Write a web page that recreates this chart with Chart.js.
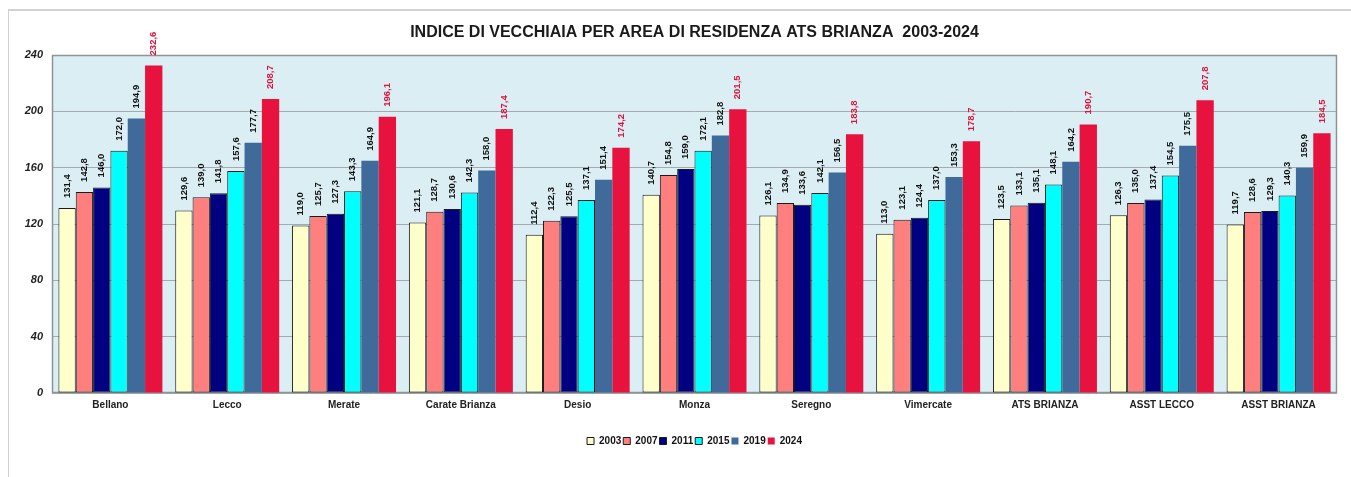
<!DOCTYPE html>
<html>
<head>
<meta charset="utf-8">
<style>
html,body{margin:0;padding:0;background:#fff;overflow:hidden}
#wrap{position:relative;width:1351px;height:477px}
#frame{position:absolute;left:8px;top:9px;right:0;bottom:0;border-top:2px solid #d2d2d2;border-left:1px solid #d2d2d2}
canvas{position:absolute;left:0;top:0}
</style>
<script src="https://cdn.jsdelivr.net/npm/chart.js@4.4.1/dist/chart.umd.min.js"></script>
</head>
<body>
<div id="wrap"><div id="frame"></div><canvas id="c" width="1351" height="477"></canvas></div>
<script>
const categories = ['Bellano','Lecco','Merate','Carate Brianza','Desio','Monza','Seregno','Vimercate','ATS BRIANZA','ASST LECCO','ASST BRIANZA'];
const years = ['2003','2007','2011','2015','2019','2024'];
const v2003 = [131.4,129.6,119.0,121.1,112.4,140.7,126.1,113.0,123.5,126.3,119.7];
const v2007 = [142.8,139.0,125.7,128.7,122.3,154.8,134.9,123.1,133.1,135.0,128.6];
const v2011 = [146.0,141.8,127.3,130.6,125.5,159.0,133.6,124.4,135.1,137.4,129.3];
const v2015 = [172.0,157.6,143.3,142.3,137.1,172.1,142.1,137.0,148.1,154.5,140.3];
const v2019 = [194.9,177.7,164.9,158.0,151.4,182.8,156.5,153.3,164.2,175.5,159.9];
const v2024 = [232.6,208.7,196.1,187.4,174.2,201.5,183.8,178.7,190.7,207.8,184.5];
const yTicks = [0,40,80,120,160,200,240];
const titleText = 'INDICE DI VECCHIAIA PER AREA DI RESIDENZA ATS BRIANZA  2003-2024';

const seriesValues = [v2003,v2007,v2011,v2015,v2019,v2024];
const fills = ['#FFFFCC','#FF7F7F','#000080','#00FFFF','#3F6A9A','#E8123F'];
const borders = [1,1,1,1,0,0];
const labelColors = ['#111','#111','#111','#111','#111','#E0103A'];

const fmt = v => v.toFixed(1).replace('.', ',');

const plotBg = {
  id:'plotBg',
  beforeDraw(chart){
    const {ctx, chartArea:a} = chart;
    ctx.save();
    ctx.fillStyle = '#DAEEF3';
    ctx.fillRect(a.left, a.top, a.right-a.left, a.bottom-a.top);
    ctx.restore();
  },
  beforeDatasetsDraw(chart){
    const {ctx, chartArea:a} = chart;
    ctx.save();
    ctx.strokeStyle = '#8E9496';
    ctx.lineWidth = 1.5;
    ctx.strokeRect(a.left+0.5, a.top+0.5, a.right-a.left-1, a.bottom-a.top-1);
    ctx.restore();
  }
};

const valueLabels = {
  id:'valueLabels',
  afterDatasetsDraw(chart){
    const ctx = chart.ctx;
    ctx.save();
    ctx.font = 'bold 9.5px "Liberation Sans", Arial, sans-serif';
    ctx.textAlign = 'left';
    ctx.textBaseline = 'middle';
    chart.data.datasets.forEach((ds, i) => {
      const meta = chart.getDatasetMeta(i);
      ctx.fillStyle = labelColors[i];
      meta.data.forEach((bar, j) => {
        ctx.save();
        ctx.translate(bar.x, bar.y - 10);
        ctx.rotate(-Math.PI/2);
        ctx.fillText(fmt(ds.data[j]), 0, 0);
        ctx.restore();
      });
    });
    ctx.restore();
  }
};

new Chart(document.getElementById('c'), {
  type:'bar',
  data:{
    labels: categories,
    datasets: years.map((y,i)=>({
      label:y,
      data:seriesValues[i],
      backgroundColor:fills[i],
      borderColor:'#1a1a1a',
      borderWidth:borders[i],
      borderSkipped:false,
      categoryPercentage:0.89,
      barPercentage:1
    }))
  },
  options:{
    responsive:false,
    animation:false,
    devicePixelRatio:1,
    layout:{padding:{left:8,right:14,top:0,bottom:21}},
    plugins:{
      title:{
        display:true,
        text:titleText,
        fullSize:false,
        color:'#1a1a1a',
        font:{family:'"Liberation Sans", Arial, sans-serif',size:16,weight:'bold'},
        padding:{top:23,bottom:12.8}
      },
      legend:{
        position:'bottom',
        fullSize:false,
        labels:{
          boxWidth:7,boxHeight:7,padding:2,
          color:'#111',
          font:{family:'"Liberation Sans", Arial, sans-serif',size:10,weight:'bold'}
        }
      },
      tooltip:{enabled:false}
    },
    scales:{
      x:{
        grid:{display:false,drawTicks:false},
        border:{display:false},
        ticks:{
          color:'#222',
          padding:6,
          maxRotation:0,
          font:{family:'"Liberation Sans", Arial, sans-serif',size:10,weight:'bold'}
        },
        afterFit(s){ s.height = 41; }
      },
      y:{
        min:0,max:240,
        afterBuildTicks(s){ s.ticks = yTicks.map(v=>({value:v})); },
        grid:{color:'#A4AAAD',lineWidth:1,drawTicks:false},
        border:{display:false},
        ticks:{
          color:'#222',
          padding:9,
          font:{family:'"Liberation Sans", Arial, sans-serif',size:11,weight:'bold',style:'italic'}
        },
        afterFit(s){ s.width = 44; }
      }
    }
  },
  plugins:[plotBg, valueLabels]
});
</script>
</body>
</html>
